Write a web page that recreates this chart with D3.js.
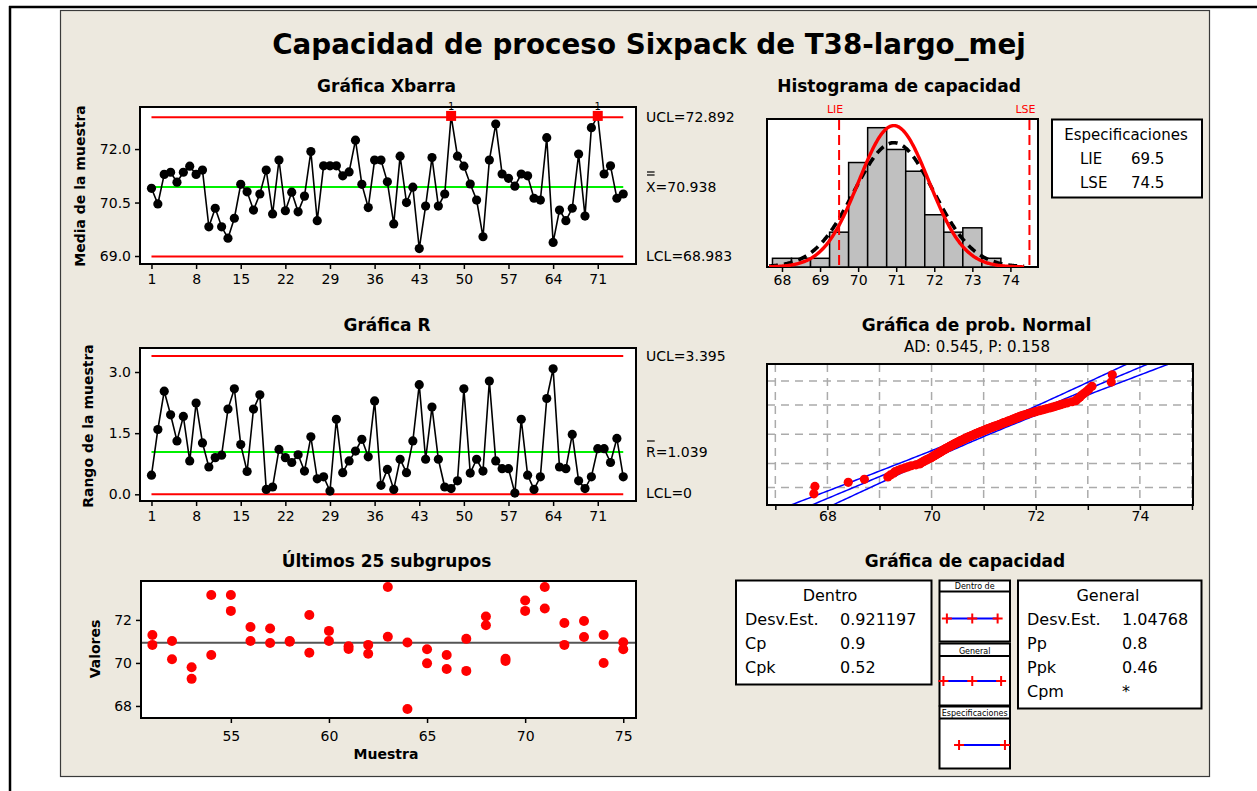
<!DOCTYPE html>
<html>
<head>
<meta charset="utf-8">
<script src="https://cdn.jsdelivr.net/npm/d3@7"></script>
<style>
  body { margin: 0; background: #ffffff; }
  svg { display: block; }
</style>
</head>
<body>
<svg id="chart" width="1257" height="791"></svg>
<script>
// ---------------- data ----------------
const subgroupTicks = [1, 8, 15, 22, 29, 36, 43, 50, 57, 64, 71];

// subgroup means, samples 1..75
const xbarValues = [
  70.90, 70.46, 71.29, 71.35, 71.07, 71.35, 71.52, 71.29, 71.41, 69.82,
  70.34, 69.82, 69.50, 70.06, 71.01, 70.80, 70.29, 70.74, 71.41, 70.18,
  71.69, 70.27, 70.79, 70.24, 70.68, 71.93, 69.99, 71.53, 71.53, 71.53,
  71.25, 71.36, 72.25, 71.01, 70.36, 71.69, 71.69, 71.08, 69.90, 71.80,
  70.50, 70.93, 69.21, 70.40, 71.76, 70.40, 70.74, 72.93, 71.80, 71.52,
  71.02, 70.57, 69.54, 71.69, 72.70, 71.30, 71.18, 70.96, 71.30, 71.25,
  70.62, 70.57, 72.32, 69.38, 70.29, 69.99, 70.34, 71.86, 70.12, 72.60,
  72.93, 71.30, 71.53, 70.62, 70.74
];
const xbarUCL = 72.892, xbarCenter = 70.938, xbarLCL = 68.983;
const xbarYTicks = [69.0, 70.5, 72.0];

// subgroup ranges, samples 1..75
const rangeValues = [
  0.47, 1.59, 2.53, 1.95, 1.31, 1.91, 0.82, 2.24, 1.26, 0.67,
  0.90, 0.96, 2.09, 2.59, 1.22, 0.56, 2.09, 2.44, 0.12, 0.18,
  1.10, 0.90, 0.78, 0.97, 0.57, 1.41, 0.38, 0.43, 0.08, 1.84,
  0.53, 0.82, 1.06, 1.35, 0.92, 2.29, 0.22, 0.61, 0.12, 0.86,
  0.53, 1.31, 2.69, 0.86, 2.14, 0.86, 0.18, 0.14, 0.33, 2.59,
  0.52, 0.86, 0.57, 2.78, 0.82, 0.63, 0.63, 0.03, 1.84, 0.47,
  0.12, 0.43, 2.35, 3.08, 0.67, 0.63, 1.47, 0.33, 0.14, 0.43,
  1.12, 1.12, 0.78, 1.37, 0.43
];
const rUCL = 3.395, rCenter = 1.039, rLCL = 0;
const rYTicks = [0.0, 1.5, 3.0];

// individual observations of the last 25 subgroups (two per subgroup)
const lastSamples = [51, 52, 53, 54, 55, 56, 57, 58, 59, 60, 61, 62, 63,
                     64, 65, 66, 67, 68, 69, 70, 71, 72, 73, 74, 75];
const lastFirst  = [71.30, 71.02, 69.80, 73.16, 73.16, 71.67, 71.60, 71.02, 72.23, 71.49,
                    70.78, 70.84, 73.53, 70.95, 70.64, 70.37, 71.12, 72.16, 70.19, 72.90,
                    73.53, 71.86, 71.95, 71.30, 70.96];
const lastSecond = [70.84, 70.17, 69.26, 70.37, 72.42, 71.02, 70.93, 70.99, 70.47, 71.02,
                    70.65, 70.43, 71.22, 67.86, 69.98, 69.72, 69.63, 71.75, 70.09, 72.42,
                    72.53, 70.84, 71.21, 70.00, 70.64];
const lastXTicks = [55, 60, 65, 70, 75];
const lastYTicks = [68, 70, 72];

// capability histogram
const histBinStarts = [67.75, 68.25, 68.75, 69.25, 69.75, 70.25, 70.75, 71.25, 71.75, 72.25, 72.75, 73.25];
const histCounts    = [2, 2, 2, 8, 24, 32, 27, 22, 12, 8, 9, 2];
const histBinWidth = 0.5;
const histXTicks = [68, 69, 70, 71, 72, 73, 74];
const specLIE = 69.5, specLSE = 74.5;
const sdWithin = 0.921197, sdOverall = 1.04768;

// sorted observations for the normal probability plot
const probValues = [
  67.74, 67.76, 68.40, 68.71, 69.16, 69.21,
  69.27, 69.30, 69.36, 69.42, 69.49, 69.55, 69.61, 69.70,
  69.77, 69.79, 69.82, 69.85, 69.87, 69.90, 69.93, 69.95, 69.98, 70.00,
  70.02, 70.04, 70.06, 70.08, 70.10, 70.11, 70.13, 70.15, 70.16, 70.18,
  70.19, 70.21, 70.22, 70.24,
  70.26, 70.27, 70.29, 70.30, 70.32, 70.34, 70.35, 70.37, 70.38, 70.40,
  70.41, 70.43, 70.44, 70.46, 70.47, 70.49, 70.50, 70.52, 70.53, 70.55,
  70.56, 70.58, 70.60, 70.61, 70.63, 70.64, 70.66, 70.67, 70.69, 70.70,
  70.72, 70.74,
  70.76, 70.77, 70.79, 70.81, 70.82, 70.84, 70.86, 70.87, 70.89, 70.91,
  70.93, 70.94, 70.96, 70.98, 71.00, 71.02, 71.04, 71.05, 71.07, 71.09,
  71.11, 71.13, 71.15, 71.17, 71.19, 71.21, 71.23,
  71.26, 71.28, 71.30, 71.32, 71.34, 71.36, 71.38, 71.40, 71.43, 71.45,
  71.47, 71.49, 71.52, 71.54, 71.56, 71.58, 71.61, 71.63, 71.65, 71.68,
  71.70, 71.73,
  71.76, 71.79, 71.83, 71.86, 71.90, 71.94, 71.98, 72.02, 72.07, 72.12, 72.17, 72.22,
  72.28, 72.33, 72.38, 72.43, 72.48, 72.54, 72.61, 72.70,
  72.77, 72.79, 72.82, 72.85, 72.88, 72.92, 72.97, 73.02, 73.08,
  73.45, 73.47
];
const probXTicks = [67, 68, 69, 70, 71, 72, 73, 74, 75];
const probXLabels = [68, 70, 72, 74];
const probGridPercents = [1, 10, 50, 90, 99];

// capability statistics
const withinRows  = [["Desv.Est.", "0.921197"], ["Cp", "0.9"], ["Cpk", "0.52"]];
const overallRows = [["Desv.Est.", "1.04768"], ["Pp", "0.8"], ["Ppk", "0.46"], ["Cpm", "*"]];

// ---------------- helpers ----------------
const FONT = '"DejaVu Sans", Verdana, sans-serif';
const BG = '#EDE9DF';
const RED = '#FF0000', GREEN = '#00F000', BLUE = '#0000FF';
const svg = d3.select('#chart');

function txt(x, y, s, o = {}) {
  return svg.append('text')
    .attr('x', x).attr('y', y)
    .attr('font-family', FONT)
    .attr('font-size', o.size || 14)
    .attr('font-weight', o.bold ? 'bold' : 'normal')
    .attr('text-anchor', o.anchor || 'start')
    .attr('fill', o.color || '#000')
    .text(s);
}
function vtxt(x, y, s, o = {}) {
  return svg.append('text')
    .attr('transform', `translate(${x},${y}) rotate(-90)`)
    .attr('font-family', FONT)
    .attr('font-size', o.size || 14)
    .attr('font-weight', 'bold')
    .attr('text-anchor', 'middle')
    .text(s);
}
function box(b, fill = '#fff') {
  return svg.append('rect')
    .attr('x', b.x0).attr('y', b.y0)
    .attr('width', b.x1 - b.x0).attr('height', b.y1 - b.y0)
    .attr('fill', fill).attr('stroke', '#000').attr('stroke-width', 2);
}
function styleAxis(g) {
  g.attr('font-family', FONT).attr('font-size', 14);
  g.select('.domain').remove();
  g.selectAll('.tick line').attr('stroke', '#000').attr('stroke-width', 1.5);
  g.selectAll('.tick text').attr('fill', '#000');
}
function hline(x1, x2, y, color, w) {
  svg.append('line').attr('x1', x1).attr('x2', x2).attr('y1', y).attr('y2', y)
    .attr('stroke', color).attr('stroke-width', w);
}
function normPdf(x, m, s) {
  return Math.exp(-0.5 * ((x - m) / s) ** 2) / (s * Math.sqrt(2 * Math.PI));
}
function normInv(p) {
  const a = [-3.969683028665376e+01, 2.209460984245205e+02, -2.759285104469687e+02, 1.383577518672690e+02, -3.066479806614716e+01, 2.506628277459239e+00];
  const b = [-5.447609879822406e+01, 1.615858368580409e+02, -1.556989798598866e+02, 6.680131188771972e+01, -1.328068155288572e+01];
  const c = [-7.784894002430293e-03, -3.223964580411365e-01, -2.400758277161838e+00, -2.549732539343734e+00, 4.374664141464968e+00, 2.938163982698783e+00];
  const d = [7.784695709041462e-03, 3.224671290700398e-01, 2.445134137142996e+00, 3.754408661907416e+00];
  const pl = 0.02425, ph = 1 - pl;
  let q, r;
  if (p < pl) {
    q = Math.sqrt(-2 * Math.log(p));
    return (((((c[0]*q+c[1])*q+c[2])*q+c[3])*q+c[4])*q+c[5]) / ((((d[0]*q+d[1])*q+d[2])*q+d[3])*q+1);
  }
  if (p > ph) {
    q = Math.sqrt(-2 * Math.log(1 - p));
    return -(((((c[0]*q+c[1])*q+c[2])*q+c[3])*q+c[4])*q+c[5]) / ((((d[0]*q+d[1])*q+d[2])*q+d[3])*q+1);
  }
  q = p - 0.5; r = q * q;
  return (((((a[0]*r+a[1])*r+a[2])*r+a[3])*r+a[4])*r+a[5])*q / (((((b[0]*r+b[1])*r+b[2])*r+b[3])*r+b[4])*r+1);
}

// ---------------- page frame ----------------
svg.append('rect').attr('width', 1257).attr('height', 791).attr('fill', '#fff');
svg.append('line').attr('x1', 9).attr('x2', 1257).attr('y1', 7).attr('y2', 7).attr('stroke', '#000').attr('stroke-width', 2.5);
svg.append('line').attr('x1', 10).attr('x2', 10).attr('y1', 6).attr('y2', 791).attr('stroke', '#000').attr('stroke-width', 2.5);
svg.append('rect').attr('x', 60.5).attr('y', 10.5).attr('width', 1149).attr('height', 766)
  .attr('fill', BG).attr('stroke', '#3a3a3a').attr('stroke-width', 1.2);

// main title, fitted to its width
const title = txt(649, 54, 'Capacidad de proceso Sixpack de T38-largo_mej', { size: 27, bold: true, anchor: 'middle' });
{
  const w = title.node().getComputedTextLength();
  title.attr('font-size', 27 * 754 / w);
}

// ---------------- Xbar chart ----------------
const xbarPts = xbarValues.map((v, i) => ({ s: i + 1, v }));
const xbarBox = { x0: 140, x1: 636, y0: 107, y1: 264 };
const xSub = d3.scaleLinear().domain([-0.8, 77]).range([xbarBox.x0, xbarBox.x1]);
const yXbar = d3.scaleLinear().domain([68.776, 73.18]).range([xbarBox.y1, xbarBox.y0]);

txt(386.5, 92, 'Gráfica Xbarra', { size: 17, bold: true, anchor: 'middle' });
vtxt(85, 186, 'Media de la muestra');
box(xbarBox);
svg.append('g').attr('transform', `translate(0,${xbarBox.y1})`)
  .call(d3.axisBottom(xSub).tickValues(subgroupTicks).tickSize(5).tickPadding(5).tickFormat(d3.format('d')))
  .call(styleAxis);
svg.append('g').attr('transform', `translate(${xbarBox.x0},0)`)
  .call(d3.axisLeft(yXbar).tickValues(xbarYTicks).tickSize(5).tickPadding(4).tickFormat(d3.format('.1f')))
  .call(styleAxis);

hline(xSub(1), xSub(75), yXbar(xbarUCL), RED, 2);
hline(xSub(1), xSub(75), yXbar(xbarLCL), RED, 2);
hline(xSub(1), xSub(75), yXbar(xbarCenter), GREEN, 2);

svg.append('path').datum(xbarPts)
  .attr('d', d3.line().x(d => xSub(d.s)).y(d => yXbar(d.v)))
  .attr('fill', 'none').attr('stroke', '#000').attr('stroke-width', 1.6);
const inControl = d => d.v <= xbarUCL && d.v >= xbarLCL;
svg.append('g').selectAll('circle').data(xbarPts.filter(inControl))
  .enter().append('circle')
  .attr('cx', d => xSub(d.s)).attr('cy', d => yXbar(d.v)).attr('r', 4.6).attr('fill', '#000');
// out-of-control subgroups (test 1)
xbarPts.filter(d => !inControl(d)).forEach(d => {
  const cx = xSub(d.s), cy = yXbar(d.v);
  svg.append('rect').attr('x', cx - 5).attr('y', cy - 5).attr('width', 10).attr('height', 10).attr('fill', RED);
  txt(cx, 110, '1', { size: 10, anchor: 'middle' });
});
txt(646, 122, 'UCL=72.892');
{
  const t = txt(646, 192, 'X=70.938');
  const w = t.node().getSubStringLength(0, 1);
  hline(647, 646 + w - 1, 172, '#000', 1.2);
  hline(647, 646 + w - 1, 175, '#000', 1.2);
}
txt(646, 261, 'LCL=68.983');

// ---------------- R chart ----------------
const rBox = { x0: 140, x1: 636, y0: 348, y1: 501 };
const yR = d3.scaleLinear().domain([-0.164, 3.589]).range([rBox.y1, rBox.y0]);

txt(387, 331, 'Gráfica R', { size: 17, bold: true, anchor: 'middle' });
vtxt(93, 426, 'Rango de la muestra');
box(rBox);
svg.append('g').attr('transform', `translate(0,${rBox.y1})`)
  .call(d3.axisBottom(xSub).tickValues(subgroupTicks).tickSize(5).tickPadding(5).tickFormat(d3.format('d')))
  .call(styleAxis);
svg.append('g').attr('transform', `translate(${rBox.x0},0)`)
  .call(d3.axisLeft(yR).tickValues(rYTicks).tickSize(5).tickPadding(4).tickFormat(d3.format('.1f')))
  .call(styleAxis);

hline(xSub(1), xSub(75), yR(rUCL), RED, 2);
hline(xSub(1), xSub(75), yR(rLCL), RED, 2);
hline(xSub(1), xSub(75), yR(rCenter), GREEN, 2);
svg.append('path').datum(rangeValues)
  .attr('d', d3.line().x((d, i) => xSub(i + 1)).y(d => yR(d)))
  .attr('fill', 'none').attr('stroke', '#000').attr('stroke-width', 1.6);
svg.append('g').selectAll('circle').data(rangeValues).enter().append('circle')
  .attr('cx', (d, i) => xSub(i + 1)).attr('cy', d => yR(d)).attr('r', 4.6).attr('fill', '#000');
txt(646, 361, 'UCL=3.395');
{
  const t = txt(646, 457, 'R=1.039');
  const w = t.node().getSubStringLength(0, 1);
  hline(647, 646 + w - 1, 441, '#000', 1.2);
}
txt(646, 498, 'LCL=0');

// ---------------- last 25 subgroups ----------------
const lastBox = { x0: 141, x1: 636, y0: 581, y1: 718 };
const xLast = d3.scaleLinear().domain([50.42, 75.65]).range([lastBox.x0, lastBox.x1]);
const yLast = d3.scaleLinear().domain([67.44, 73.81]).range([lastBox.y1, lastBox.y0]);

txt(386.5, 566.5, 'Últimos 25 subgrupos', { size: 17, bold: true, anchor: 'middle' });
vtxt(100, 649, 'Valores');
txt(386, 759, 'Muestra', { size: 14, bold: true, anchor: 'middle' });
box(lastBox);
svg.append('g').attr('transform', `translate(0,${lastBox.y1})`)
  .call(d3.axisBottom(xLast).tickValues(lastXTicks).tickSize(5).tickPadding(8).tickFormat(d3.format('d')))
  .call(styleAxis);
svg.append('g').attr('transform', `translate(${lastBox.x0},0)`)
  .call(d3.axisLeft(yLast).tickValues(lastYTicks).tickSize(5).tickPadding(4).tickFormat(d3.format('d')))
  .call(styleAxis);
hline(lastBox.x0 + 1, lastBox.x1 - 1, yLast(xbarCenter), '#555', 2);
const lastPts = lastSamples.flatMap((s, i) => [[s, lastFirst[i]], [s, lastSecond[i]]]);
svg.append('g').selectAll('circle').data(lastPts).enter().append('circle')
  .attr('cx', d => xLast(d[0])).attr('cy', d => yLast(d[1])).attr('r', 5).attr('fill', RED);

// ---------------- capability histogram ----------------
const histBox = { x0: 767, x1: 1038, y0: 119, y1: 267 };
const xHist = d3.scaleLinear().domain([67.606, 74.725]).range([histBox.x0, histBox.x1]);
const yHist = d3.scaleLinear().domain([0, 34]).range([histBox.y1, histBox.y0]);
const histN = d3.sum(histCounts);

txt(899, 91.5, 'Histograma de capacidad', { size: 17, bold: true, anchor: 'middle' });
box(histBox);
svg.append('g').attr('transform', `translate(0,${histBox.y1})`)
  .call(d3.axisBottom(xHist).tickValues(histXTicks).tickSize(5).tickPadding(3).tickFormat(d3.format('d')))
  .call(styleAxis);
svg.append('g').selectAll('rect').data(histCounts).enter().append('rect')
  .attr('x', (d, i) => xHist(histBinStarts[i]))
  .attr('width', (d, i) => xHist(histBinStarts[i] + histBinWidth) - xHist(histBinStarts[i]))
  .attr('y', d => yHist(d))
  .attr('height', d => yHist(0) - yHist(d))
  .attr('fill', '#C0C0C0').attr('stroke', '#000').attr('stroke-width', 1.5);

svg.append('clipPath').attr('id', 'histClip').append('rect')
  .attr('x', histBox.x0).attr('y', histBox.y0).attr('width', histBox.x1 - histBox.x0).attr('height', histBox.y1 - histBox.y0);
const curveXs = d3.range(67.66, 74.36, 0.02);
const histCurve = sd => d3.line()
  .x(v => xHist(v)).y(v => yHist(histN * histBinWidth * normPdf(v, xbarCenter, sd)))(curveXs);
svg.append('path').attr('d', histCurve(sdOverall)).attr('clip-path', 'url(#histClip)')
  .attr('fill', 'none').attr('stroke', '#000').attr('stroke-width', 3.6).attr('stroke-dasharray', '9,6');
svg.append('path').attr('d', histCurve(sdWithin)).attr('clip-path', 'url(#histClip)')
  .attr('fill', 'none').attr('stroke', RED).attr('stroke-width', 3.4);

[[specLIE, 'LIE'], [specLSE, 'LSE']].forEach(([v, name]) => {
  svg.append('line').attr('x1', xHist(v)).attr('x2', xHist(v)).attr('y1', histBox.y0 + 1).attr('y2', histBox.y1 - 1)
    .attr('stroke', RED).attr('stroke-width', 2).attr('stroke-dasharray', '10,5');
  txt(xHist(v) - 4, 113, name, { size: 11, color: RED, anchor: 'middle' });
});
box({ x0: 1052, x1: 1202, y0: 119.5, y1: 197.5 });
txt(1126, 140, 'Especificaciones', { size: 15, anchor: 'middle' });
txt(1080, 164, 'LIE', { size: 15 });
txt(1131, 164, String(specLIE), { size: 15 });
txt(1080, 188, 'LSE', { size: 15 });
txt(1131, 188, String(specLSE), { size: 15 });

// ---------------- normal probability plot ----------------
const probBox = { x0: 767, x1: 1193, y0: 364, y1: 505 };
const xProb = d3.scaleLinear().domain([66.84, 75.02]).range([probBox.x0, probBox.x1]);
const zProb = d3.scaleLinear().domain([-3.09, 3.07]).range([probBox.y1, probBox.y0]);
const nObs = probValues.length;

txt(976.5, 331, 'Gráfica de prob. Normal', { size: 17, bold: true, anchor: 'middle' });
txt(977, 352, 'AD: 0.545, P: 0.158', { size: 15, anchor: 'middle' });
box(probBox);
svg.append('clipPath').attr('id', 'probClip').append('rect')
  .attr('x', probBox.x0 + 1).attr('y', probBox.y0 + 1).attr('width', probBox.x1 - probBox.x0 - 2).attr('height', probBox.y1 - probBox.y0 - 2);
const grid = svg.append('g').attr('clip-path', 'url(#probClip)');
probXTicks.forEach(v => grid.append('line')
  .attr('x1', xProb(v)).attr('x2', xProb(v)).attr('y1', probBox.y0).attr('y2', probBox.y1)
  .attr('stroke', '#ABABAB').attr('stroke-width', 1.5).attr('stroke-dasharray', '8,6'));
probGridPercents.forEach(p => grid.append('line')
  .attr('x1', probBox.x0).attr('x2', probBox.x1).attr('y1', zProb(normInv(p / 100))).attr('y2', zProb(normInv(p / 100)))
  .attr('stroke', '#ABABAB').attr('stroke-width', 1.5).attr('stroke-dasharray', '8,6'));
svg.append('g').attr('transform', `translate(0,${probBox.y1})`)
  .call(d3.axisBottom(xProb).tickValues(probXTicks).tickSize(5).tickPadding(1)
    .tickFormat(d => probXLabels.includes(d) ? d : ''))
  .call(styleAxis);

// fitted line with 95% confidence band
const zs = d3.range(-3.3, 3.3, 0.05);
const halfWidth = z => 1.96 * sdOverall * Math.sqrt(1 / nObs + z * z / (2 * nObs));
[-1, 0, 1].forEach(k => {
  grid.append('path')
    .attr('d', d3.line().x(z => xProb(xbarCenter + sdOverall * z + k * halfWidth(z))).y(z => zProb(z))(zs))
    .attr('fill', 'none').attr('stroke', BLUE).attr('stroke-width', 1.5);
});
grid.append('g').selectAll('circle').data(probValues).enter().append('circle')
  .attr('cx', d => xProb(d))
  .attr('cy', (d, i) => zProb(normInv((i + 1 - 0.3) / (nObs + 0.4))))
  .attr('r', 4.6).attr('fill', RED);

// ---------------- capability plot ----------------
txt(965, 566.5, 'Gráfica de capacidad', { size: 17, bold: true, anchor: 'middle' });
box({ x0: 736, x1: 931.5, y0: 580.5, y1: 684.5 });
txt(830, 601, 'Dentro', { size: 16, anchor: 'middle' });
withinRows.forEach((r, i) => {
  txt(745, 625 + i * 24, r[0], { size: 16 });
  txt(840, 625 + i * 24, r[1], { size: 16 });
});
box({ x0: 1018, x1: 1201.5, y0: 580.5, y1: 708.5 });
txt(1108, 601, 'General', { size: 16, anchor: 'middle' });
overallRows.forEach((r, i) => {
  txt(1027, 625 + i * 24, r[0], { size: 16 });
  txt(1122, 625 + i * 24, r[1], { size: 16 });
});

const capX = d3.scaleLinear().domain([67.37, 75.05]).range([939.5, 1010]);
const intervals = [
  { name: 'Dentro de', top: 580.5, head: 591.5, bottom: 641.5, y: 618.5,
    marks: [xbarCenter - 3 * sdWithin, xbarCenter, xbarCenter + 3 * sdWithin] },
  { name: 'General', top: 643.5, head: 656, bottom: 705.5, y: 681,
    marks: [xbarCenter - 3 * sdOverall, xbarCenter, xbarCenter + 3 * sdOverall] },
  { name: 'Especificaciones', top: 706.5, head: 718.5, bottom: 768.5, y: 745,
    marks: [specLIE, specLSE] }
];
intervals.forEach(iv => {
  box({ x0: 939.5, x1: 1010, y0: iv.top, y1: iv.bottom });
  hline(939.5, 1010, iv.head, '#000', 2);
  txt(974.7, iv.head - 2.5, iv.name, { size: 8, anchor: 'middle' });
  const lo = d3.min(iv.marks), hi = d3.max(iv.marks);
  hline(capX(lo), capX(hi), iv.y, BLUE, 2);
  iv.marks.forEach(m => {
    hline(capX(m) - 5, capX(m) + 5, iv.y, RED, 2);
    svg.append('line').attr('x1', capX(m)).attr('x2', capX(m)).attr('y1', iv.y - 5).attr('y2', iv.y + 5)
      .attr('stroke', RED).attr('stroke-width', 2);
  });
});
</script>
</body>
</html>
